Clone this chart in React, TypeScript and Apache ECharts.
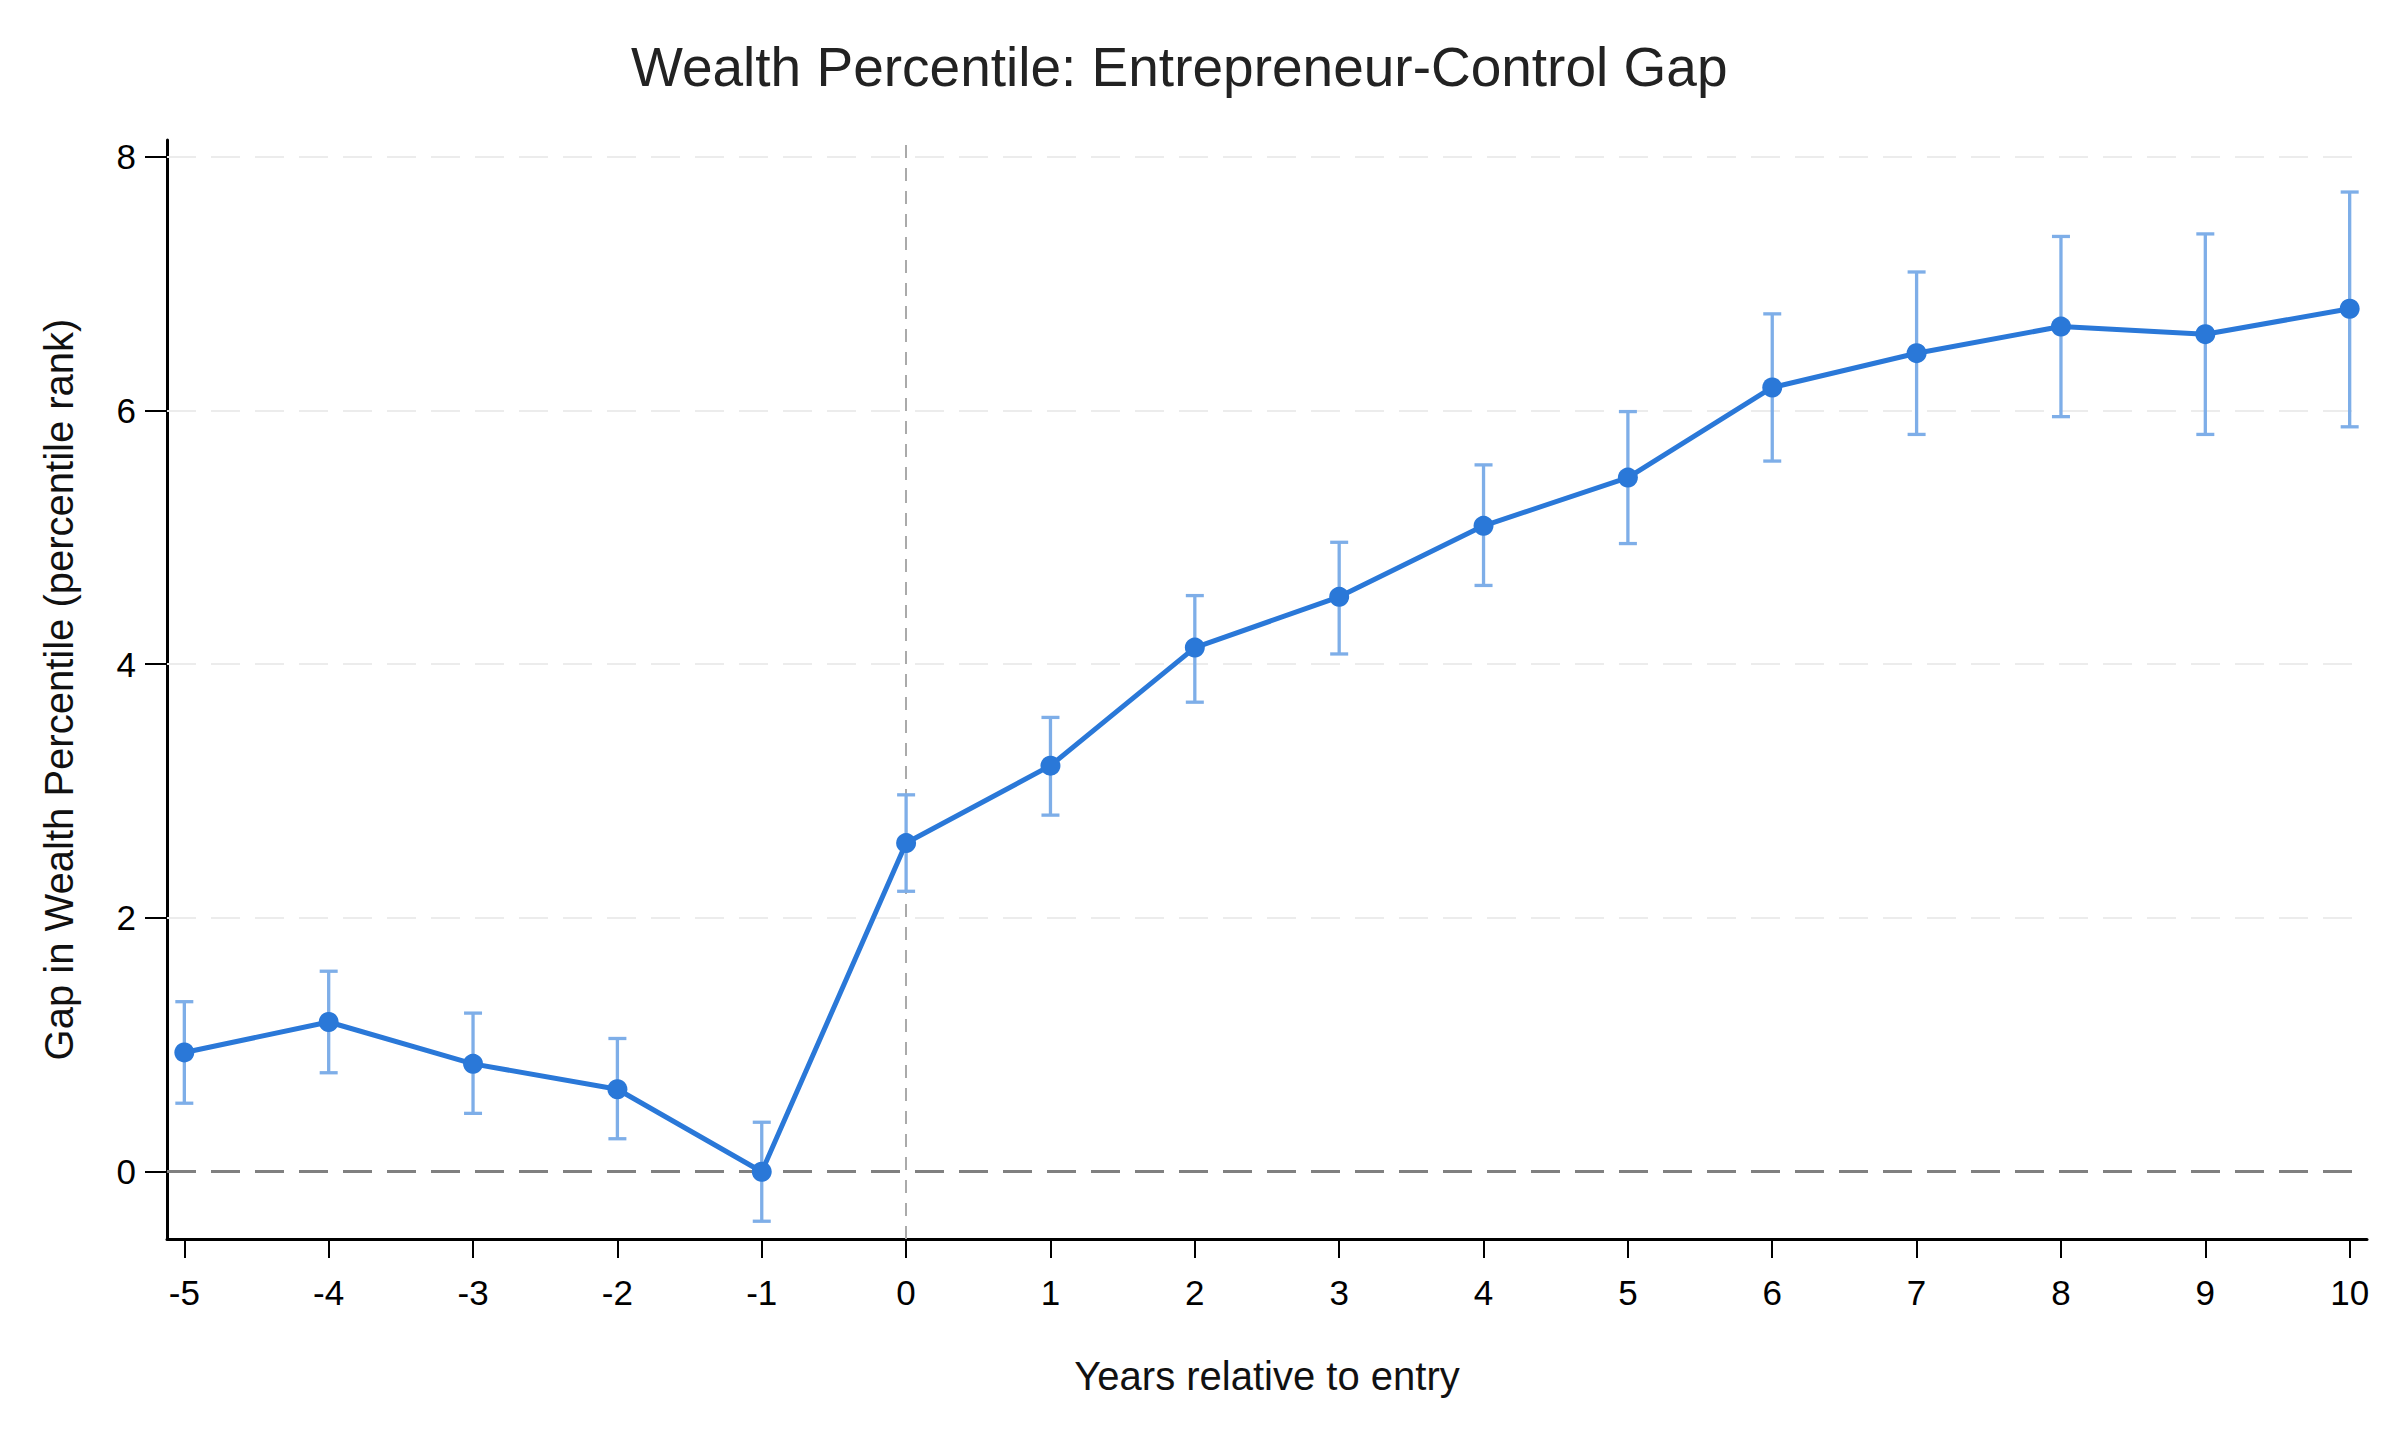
import { useEffect, useRef } from "react";
import * as echarts from "echarts";

const years = [-5, -4, -3, -2, -1, 0, 1, 2, 3, 4, 5, 6, 7, 8, 9, 10];
const gap = [0.94, 1.18, 0.85, 0.65, 0.0, 2.59, 3.2, 4.13, 4.53, 5.09, 5.47, 6.18, 6.45, 6.66, 6.6, 6.8];
const ciLow = [0.54, 0.78, 0.46, 0.26, -0.39, 2.21, 2.81, 3.7, 4.08, 4.62, 4.95, 5.6, 5.81, 5.95, 5.81, 5.87];
const ciHigh = [1.34, 1.58, 1.25, 1.05, 0.39, 2.97, 3.58, 4.54, 4.96, 5.57, 5.99, 6.76, 7.09, 7.37, 7.39, 7.72];
const yTicks = [0, 2, 4, 6, 8];
const gridValues = [2, 4, 6, 8];

const FONT = "'Liberation Sans', Arial, sans-serif";
const LINE = "#2a78d8";
const ERR = "#7eaee8";

export default function App() {
    const ref = useRef<HTMLDivElement>(null);

    useEffect(() => {
        if (!ref.current) return;
        const chart = echarts.init(ref.current, null, { renderer: "svg" });

        chart.setOption({
            animation: false,
            backgroundColor: "#ffffff",
            title: {
                text: "Wealth Percentile: Entrepreneur-Control Gap",
                left: 626,
                top: 34,
                textStyle: { fontFamily: FONT, fontSize: 55, fontWeight: "normal", color: "#222222" },
            },
            grid: { left: 167, right: 33, top: 140, bottom: 201 },
            xAxis: {
                type: "value",
                min: -5.12,
                max: 10.12,
                name: "Years relative to entry",
                nameLocation: "middle",
                nameGap: 117,
                nameTextStyle: { fontFamily: FONT, fontSize: 40, color: "#111111" },
                axisLine: { onZero: false, lineStyle: { color: "#000000", width: 3 } },
                axisTick: { customValues: years, length: 19, lineStyle: { color: "#000000", width: 2 } },
                axisLabel: { customValues: years, margin: 36, fontFamily: FONT, fontSize: 35, color: "#000000" },
                splitLine: { show: false },
            },
            yAxis: {
                type: "value",
                min: -0.53,
                max: 8.13,
                name: "Gap in Wealth Percentile (percentile rank)",
                nameLocation: "middle",
                nameGap: 88,
                nameTextStyle: { fontFamily: FONT, fontSize: 40, color: "#111111" },
                axisLine: { show: true, onZero: false, lineStyle: { color: "#000000", width: 3 } },
                axisTick: { show: true, customValues: yTicks, length: 22, lineStyle: { color: "#000000", width: 2 } },
                axisLabel: { customValues: yTicks, margin: 31, fontFamily: FONT, fontSize: 35, color: "#000000" },
                splitLine: { show: false },
            },
            series: [
                {
                    // reference lines: grid, zero line, entry year
                    type: "line",
                    data: [],
                    z: 1,
                    markLine: {
                        silent: true,
                        symbol: "none",
                        z: 1,
                        label: { show: false },
                        data: [
                            ...gridValues.map((v) => ({
                                yAxis: v,
                                lineStyle: { color: "#ececec", width: 2, type: [29, 15] },
                            })),
                            { yAxis: 0, lineStyle: { color: "#808080", width: 3, type: [29, 15] } },
                            { xAxis: 0, lineStyle: { color: "#aaaaaa", width: 2, type: [13, 10] } },
                        ],
                    },
                },
                {
                    type: "custom",
                    z: 10,
                    data: years.map((y, i) => [y, ciLow[i], ciHigh[i]]),
                    renderItem: (params: any, api: any) => {
                        const lo = api.coord([api.value(0), api.value(1)]);
                        const hi = api.coord([api.value(0), api.value(2)]);
                        const w = 9;
                        const style = { stroke: ERR, lineWidth: 3.3 };
                        return {
                            type: "group",
                            children: [
                                { type: "line", shape: { x1: lo[0], y1: lo[1], x2: hi[0], y2: hi[1] }, style },
                                { type: "line", shape: { x1: hi[0] - w, y1: hi[1], x2: hi[0] + w, y2: hi[1] }, style },
                                { type: "line", shape: { x1: lo[0] - w, y1: lo[1], x2: lo[0] + w, y2: lo[1] }, style },
                            ],
                        };
                    },
                },
                {
                    type: "line",
                    z: 11,
                    data: years.map((y, i) => [y, gap[i]]),
                    symbol: "circle",
                    symbolSize: 20,
                    lineStyle: { color: LINE, width: 5 },
                    itemStyle: { color: LINE },
                },
            ],
        });

        return () => chart.dispose();
    }, []);

    return (
        <div
            ref={ref}
            style={{ position: "fixed", left: 0, top: 0, width: 2400, height: 1440 }}
        />
    );
}
